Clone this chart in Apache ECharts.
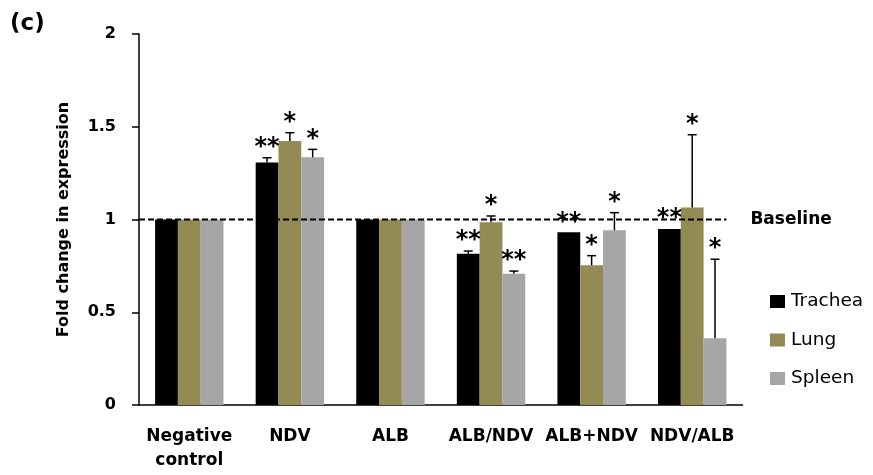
<!DOCTYPE html>
<html>
<head>
<meta charset="utf-8">
<script src="https://cdn.jsdelivr.net/npm/echarts@6/dist/echarts.min.js"></script>
<style>html,body{margin:0;padding:0;background:#fff}#c{width:873px;height:475px}</style>
</head>
<body>
<div id="c"></div>
<script>
var categories = ['Negative\ncontrol', 'NDV', 'ALB', 'ALB/NDV', 'ALB+NDV', 'NDV/ALB'];
var seriesNames = ['Trachea', 'Lung', 'Spleen'];
var trachea = [1, 1.307, 1, 0.816, 0.931, 0.949];
var lung = [1, 1.423, 1, 0.985, 0.753, 1.065];
var spleen = [1, 1.335, 1, 0.708, 0.942, 0.36];
var tracheaErr = [0, 0.026, 0, 0.014, 0, 0];
var lungErr = [0, 0.045, 0, 0.034, 0.052, 0.392];
var spleenErr = [0, 0.043, 0, 0.014, 0.095, 0.426];
var tracheaStars = ['', '**', '', '**', '**', '**'];
var lungStars = ['', '*', '', '*', '*', '*'];
var spleenStars = ['', '*', '', '**', '*', '*'];
var yTicks = [0, 0.5, 1, 1.5, 2];
var baselineValue = 1;

var colors = ['#000000', '#948A54', '#A6A6A6'];
var FONT = 'DejaVu Sans';
var vals = [trachea, lung, spleen];
var errs = [tracheaErr, lungErr, spleenErr];
var stars = [tracheaStars, lungStars, spleenStars];
var catGapFrac = 0.32;

var errItems = [];
for (var s = 0; s < 3; s++) {
  for (var i = 0; i < categories.length; i++) {
    errItems.push([i, s, vals[s][i], errs[s][i]]);
  }
}
var errStars = [];
for (var s2 = 0; s2 < 3; s2++) for (var j = 0; j < categories.length; j++) errStars.push(stars[s2][j]);

function renderErr(params, api) {
  var idx = api.value(0), s = api.value(1), v = api.value(2), e = api.value(3);
  var band = api.size([1, 0])[0];
  var barW = band * (1 - catGapFrac) / 3;
  var cx = api.coord([idx, 0])[0] + (s - 1) * barW;
  var yv = api.coord([idx, v])[1];
  var ye = api.coord([idx, v + e])[1];
  var children = [];
  var st = {stroke: '#000', lineWidth: 1.5};
  if (e > 0) {
    children.push({type: 'line', shape: {x1: cx, y1: yv, x2: cx, y2: ye}, style: st});
    children.push({type: 'line', shape: {x1: cx - 4.5, y1: ye, x2: cx + 4.5, y2: ye}, style: st});
  }
  var star = errStars[params.dataIndex];
  if (star) {
    children.push({type: 'text', style: {x: cx, y: ye + 2, text: star, fill: '#000',
      font: 'bold 24px "' + FONT + '"', textAlign: 'center', textVerticalAlign: 'bottom'}});
  }
  return {type: 'group', children: children};
}

function renderBase(params, api) {
  var band = api.size([1, 0])[0];
  var y = api.coord([0, baselineValue])[1];
  var x0 = params.coordSys.x;
  var x1 = api.coord([categories.length - 1, 0])[0] + band * (1 - catGapFrac) / 2;
  return {type: 'group', children: [
    {type: 'line', shape: {x1: x0, y1: y, x2: x1, y2: y},
      style: {stroke: '#000', lineWidth: 1.8, lineDash: [6, 3]}},
    {type: 'text', style: {x: x1 + 24, y: y, text: 'Baseline', fill: '#000',
      font: 'bold 17px "' + FONT + '"', textAlign: 'left', textVerticalAlign: 'middle'}}
  ]};
}

var chart = echarts.init(document.getElementById('c'));
var series = seriesNames.map(function (n, k) {
  return {name: n, type: 'bar', data: vals[k], barGap: '0%', barCategoryGap: (catGapFrac * 100) + '%',
    itemStyle: {color: colors[k]}, z: 2};
});
series.push({type: 'custom', renderItem: renderErr, data: errItems, z: 5, silent: true});
series.push({type: 'custom', renderItem: renderBase, data: [[0, baselineValue]], z: 6, silent: true});

chart.setOption({
  animation: false,
  graphic: [{type: 'text', left: 10, top: 13, style: {text: '(c)', fill: '#000', font: 'bold 23px "' + FONT + '"'}}],
  grid: {left: 139, right: 130.5, top: 34, bottom: 70, containLabel: false},
  legend: {
    data: seriesNames, orient: 'vertical', left: 765, top: 287, icon: 'rect',
    itemWidth: 15, itemHeight: 13, itemGap: 19.5,
    textStyle: {fontFamily: FONT, fontSize: 18.5, color: '#000', padding: [0, 0, 0, 1]}
  },
  xAxis: {
    type: 'category', data: categories,
    axisLine: {lineStyle: {color: '#000', width: 1.5}},
    axisTick: {length: 6, lineStyle: {color: '#000', width: 1.5}},
    axisLabel: {interval: 0, color: '#000', fontFamily: FONT, fontWeight: 'bold', fontSize: 17, lineHeight: 24, margin: 20}
  },
  yAxis: {
    type: 'value', min: yTicks[0], max: yTicks[yTicks.length - 1], interval: yTicks[1] - yTicks[0],
    name: 'Fold change in expression', nameLocation: 'middle', nameGap: 67,
    nameTextStyle: {color: '#000', fontFamily: FONT, fontWeight: 'bold', fontSize: 16},
    axisLine: {show: true, lineStyle: {color: '#000', width: 1.5}},
    axisTick: {show: true, length: 7, lineStyle: {color: '#000', width: 1.5}},
    splitLine: {show: false},
    axisLabel: {color: '#000', fontFamily: FONT, fontWeight: 'bold', fontSize: 16, margin: 23}
  },
  series: series
});
</script>
</body>
</html>
